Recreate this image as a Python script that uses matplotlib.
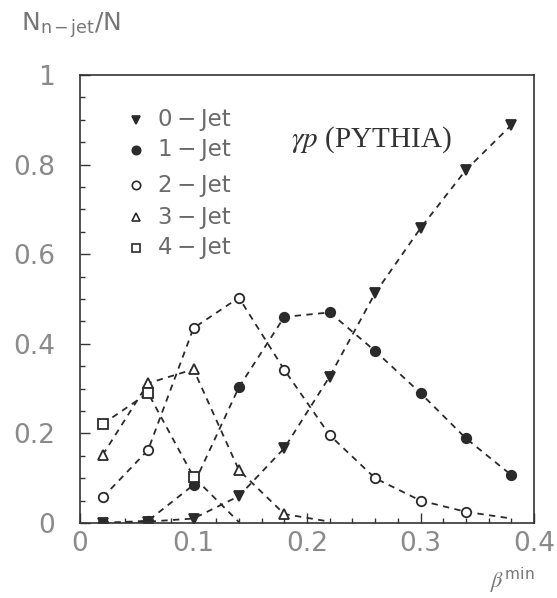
import matplotlib.pyplot as plt
import numpy as np

plt.rcParams['mathtext.fontset'] = 'stix'

# beta_min values and n-jet fractions
beta = [0.02, 0.06, 0.10, 0.14, 0.18, 0.22, 0.26, 0.30, 0.34, 0.38]
jet0 = [0.0, 0.003, 0.01, 0.06, 0.167, 0.327, 0.513, 0.658, 0.788, 0.888]
jet1 = [0.0, 0.005, 0.085, 0.303, 0.46, 0.47, 0.384, 0.29, 0.189, 0.107]
jet2 = [0.057, 0.163, 0.435, 0.503, 0.342, 0.196, 0.10, 0.05, 0.025, 0.01]
beta3 = [0.02, 0.06, 0.10, 0.14, 0.18, 0.22]
jet3 = [0.152, 0.312, 0.343, 0.118, 0.02, 0.003]
beta4 = [0.02, 0.06, 0.10, 0.14]
jet4 = [0.221, 0.29, 0.103, 0.002]

labels = ['0\u2009\u2212\u2009Jet', '1\u2009\u2212\u2009Jet', '2\u2009\u2212\u2009Jet',
          '3\u2009\u2212\u2009Jet', '4\u2009\u2212\u2009Jet']
xticks = [0, 0.1, 0.2, 0.3, 0.4]
xticklabels = ['0', '0.1', '0.2', '0.3', '0.4']
yticks = [0, 0.2, 0.4, 0.6, 0.8, 1.0]
yticklabels = ['0', '0.2', '0.4', '0.6', '0.8', '1']

fig = plt.figure(figsize=(5.57, 5.98), dpi=100)
ax = fig.add_axes([80/557, 75/598, 454/557, 448/598])

lc = '#2a2a2a'
kw = dict(color=lc, ls=(0, (3.5, 3)), lw=1.3, ms=6.8, mew=1.3)
ax.plot(beta, jet0, marker='v', mfc=lc, **kw)
ax.plot(beta, jet1, marker='o', mfc=lc, **kw)
ax.plot(beta, jet2, marker='o', mfc='white', markevery=list(range(9)), **kw)
ax.plot(beta3, jet3, marker='^', mfc='white', markevery=list(range(5)), **kw)
ax.plot(beta4, jet4, marker='s', mfc='white', markevery=list(range(3)), **kw)

ax.set_xlim(0, 0.4)
ax.set_ylim(0, 1)
ax.set_xticks(xticks)
ax.set_xticklabels(xticklabels)
ax.set_yticks(yticks)
ax.set_yticklabels(yticklabels)
ax.set_xticks(np.arange(0, 0.401, 0.02), minor=True)
ax.set_yticks(np.arange(0, 1.001, 0.05), minor=True)
ax.tick_params(which='both', direction='in', top=False, right=False, color='#333333', width=1.0)
ax.tick_params(which='major', length=7.5)
ax.tick_params(which='minor', length=3.8)
ax.tick_params(axis='y', which='major', pad=18)
ax.tick_params(axis='x', which='major', pad=6)
for t in ax.get_xticklabels() + ax.get_yticklabels():
    t.set_fontsize(19)
    t.set_color('#8a8a8a')
for s in ax.spines.values():
    s.set_linewidth(1.2)
    s.set_color('#333333')

# legend drawn by hand like the original
mk = ['v', 'o', 'o', '^', 's']
fc = [lc, lc, 'white', 'white', 'white']
ly = [0.900, 0.833, 0.754, 0.683, 0.614]
for m, f, y, lab in zip(mk, fc, ly, labels):
    ax.plot([0.123], [y], marker=m, mfc=f, mec=lc, mew=1.2, ms=6, ls='none', transform=ax.transAxes)
    ax.text(0.172, y, lab, transform=ax.transAxes, fontsize=16.5, color='#6a6a6a', va='center')

ax.text(0.465, 0.855, r'$\gamma p$ (PYTHIA)', transform=ax.transAxes, fontsize=21,
        family='Liberation Serif', color='#333333', va='center')

fig.text(21/557, 1 - 25/598, r'N$_{\mathregular{n-jet}}$/N', fontsize=18, color='#777777', va='center')
fig.text(490/557, 1 - 580/598, r'$\beta^{\mathregular{min}}$', fontsize=16, color='#777777', va='center')

fig.savefig('out.png', dpi=100)
